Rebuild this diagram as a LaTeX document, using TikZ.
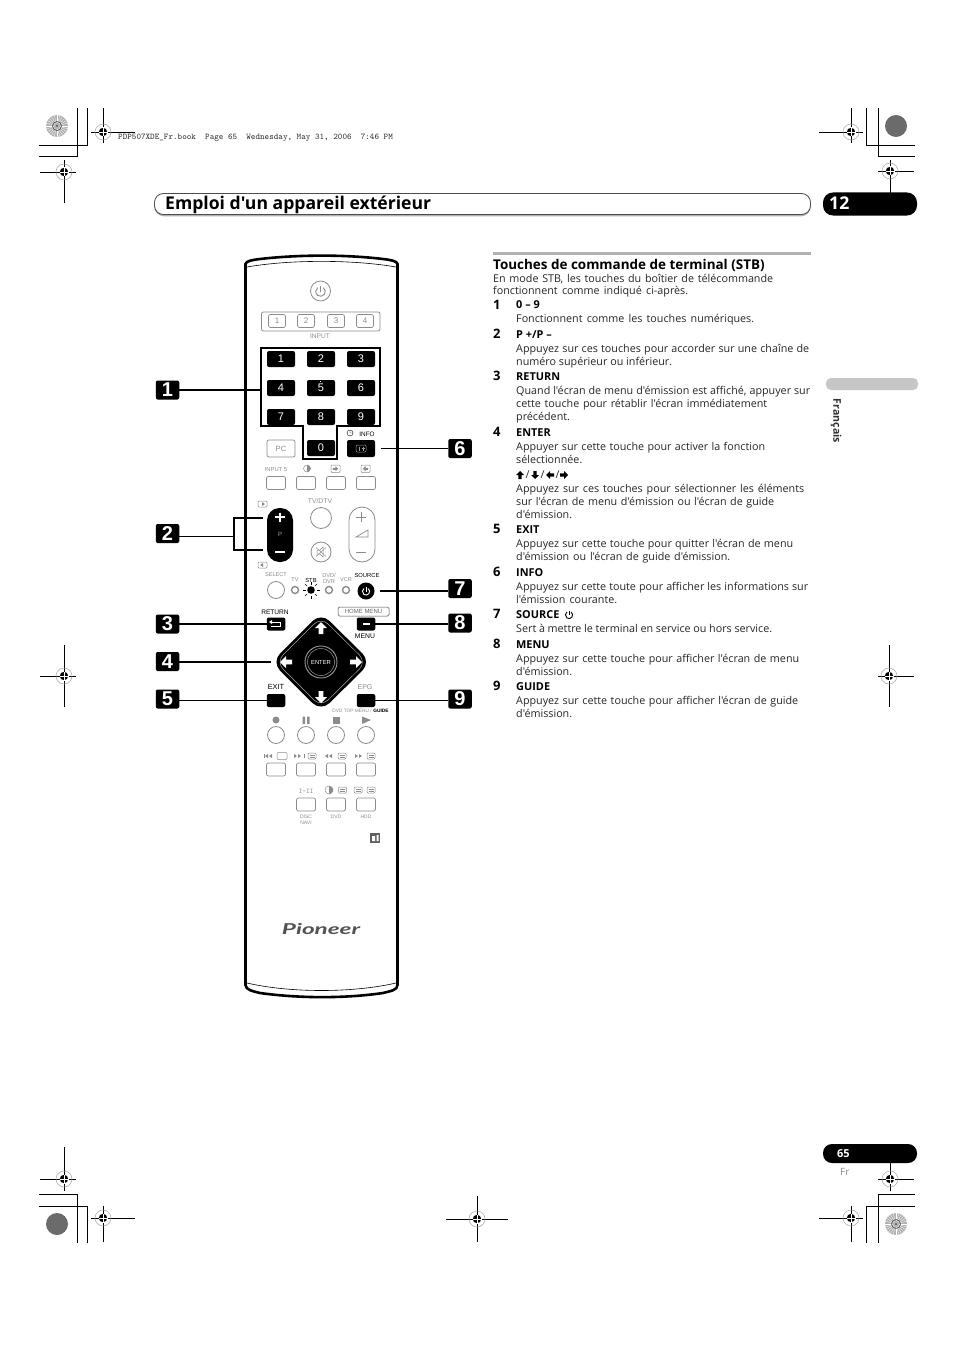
\documentclass[tikz,border=0pt]{standalone}
\usepackage{fontspec}
\newfontfamily\ofont{Open Sans}
\newfontfamily\logofont{Lato}
\newfontfamily\arialfont{Liberation Sans}
\setmonofont{Latin Modern Mono}
\definecolor{txt}{gray}{0.15}
\definecolor{lt}{gray}{0.55}
\tikzset{
  regline/.style={black,line width=0.9pt},
  cropline/.style={black,line width=0.9pt},
  leader/.style={black,line width=1.3pt},
  body/.style={anchor=base west,inner sep=0,text=txt,font=\ofont\fontsize{10.75}{12}\selectfont},
  subhead/.style={anchor=base west,inner sep=0,text=black,font=\ofont\fontsize{10.9}{12}\selectfont\bfseries},
  numlab/.style={anchor=base west,inner sep=0,text=black,font=\ofont\fontsize{13}{14}\selectfont\bfseries},
  callout/.style={fill=black,rounded corners=2pt,minimum width=23.5pt,minimum height=19pt,inner sep=0,text=white,font=\fontsize{20}{20}\arialfont\bfseries},
  numkey/.style={fill=black,rounded corners=2pt,minimum width=28pt,minimum height=16pt,inner sep=0,text=white,font=\fontsize{11}{11}\arialfont},
  graykey/.style={draw=lt,line width=0.7pt,fill=white,rounded corners=2pt,minimum width=19pt,minimum height=13pt,inner sep=0,text=lt,font=\fontsize{8}{8}\arialfont},
  blackkey/.style={fill=black,rounded corners=2pt,minimum width=18.5pt,minimum height=13pt,inner sep=0},
  grayround/.style={draw=lt,line width=0.8pt,fill=white,circle,inner sep=0},
  tiny/.style={inner sep=0,text=lt,font=\fontsize{5.6}{6}\arialfont},
  tinyb/.style={inner sep=0,text=black,font=\fontsize{5.8}{6}\arialfont},
  led/.style={circle,draw=lt,line width=1.4pt,fill=white,minimum size=7pt,inner sep=0},
  icn/.style={draw=lt,line width=0.5pt,rounded corners=1pt},
}
\newcommand{\regmark}[6]{%
  \draw[regline] (#3,#2) -- (#4,#2);
  \draw[regline] (#1,#5) -- (#1,#6);
  \draw[gray!70,line width=0.5pt] (#1,#2) circle (8);
  \fill[black] (#1,#2) circle (4.2);
  \draw[white,line width=0.6pt] (#1-4.5,#2) -- (#1+4.5,#2) (#1,#2-4.5) -- (#1,#2+4.5);
}
\newcommand{\dialdark}[2]{\fill[black!58] (#1,#2) circle (11);}
\newcommand{\dialrad}[2]{%
  \fill[gray!60] (#1,#2) circle (11);
  \foreach \a in {0,15,...,345}{\draw[white,line width=0.3pt] (#1,#2) ++(\a:3) -- ++(\a:8);}
  \draw[gray!70!black,line width=0.8pt] (#1,#2) circle (4.5);
  \fill[black!70] (#1,#2) circle (1);
}
\newcommand{\blockarrow}[5]{% x y rot size color
  \fill[#5,shift={(#1,#2)},rotate=#3] (0,-#4) -- (#4,0) -- (0.38*#4,0) -- (0.38*#4,#4) -- (-0.38*#4,#4) -- (-0.38*#4,0) -- (-#4,0) -- cycle;
}
\newcommand{\poweric}[4]{% x y r color
  \draw[#4,line width=0.9pt] (#1,#2) ++(-55:#3) arc (-55:235:#3);
  \draw[#4,line width=0.9pt] (#1,#2-#3-0.8) -- (#1,#2);
}
\newcommand{\bodyline}[4]{\node[body] (#1) at (516,#2) {\makebox[#3pt][s]{#4}};}
\newcommand{\bodyplain}[3]{\node[body] (#1) at (516,#2) {#3};}
\newcommand{\subline}[3]{\node[subhead] (#1) at (516,#2) {#3};}
\newcommand{\numline}[3]{\node[numlab] (#1) at (493,#2) {#3};}
\newcommand{\smallbox}[2]{\draw[icn,fill=white] (#1-4,#2-3) rectangle (#1+4,#2+3);\draw[lt,line width=0.4pt] (#1-2.5,#2-1) -- (#1+2.5,#2-1) (#1-2.5,#2+1) -- (#1+2.5,#2+1);}
\newcommand{\tri}[3]{\fill[lt] (#1,#2-2) -- (#1+#3,#2) -- (#1,#2+2) -- cycle;}
\newcommand{\halfdot}[3]{\draw[lt,line width=0.5pt] (#1,#2) circle (#3);\fill[lt] (#1,#2-#3) arc (-90:90:#3) -- cycle;}
\begin{document}
\begin{tikzpicture}[x=1pt,y=-1pt]
\useasboundingbox (0,0) rectangle (954,1351);
\fill[white] (0,0) rectangle (954,1351);

% --- printer's marks
\draw[cropline] (87,108) -- (87,145) -- (39,145);
\draw[cropline] (77,108) -- (77,156) -- (39,156);
\draw[cropline] (866,108) -- (866,145) -- (915,145);
\draw[cropline] (878,108) -- (878,156) -- (915,156);
\draw[cropline] (77,1243) -- (77,1194) -- (39,1194);
\draw[cropline] (87,1243) -- (87,1206) -- (39,1206);
\draw[cropline] (878,1243) -- (878,1194) -- (915,1194);
\draw[cropline] (866,1243) -- (866,1206) -- (915,1206);
\regmark{103}{132}{91}{135}{108}{143}
\regmark{64}{172}{40}{76}{160}{203}
\regmark{851}{132}{819}{863}{108}{143}
\regmark{890}{171}{878}{914}{160}{194}
\regmark{64}{1179}{40}{76}{1147}{1191}
\regmark{103}{1218}{91}{135}{1206}{1242}
\regmark{890}{1179}{878}{914}{1163}{1191}
\regmark{851}{1218}{819}{863}{1206}{1242}
\regmark{477}{1219}{446}{508}{1196}{1242}
\regmark{64}{676}{40}{76}{645}{707}
\regmark{889}{676}{878}{914}{645}{707}
\dialrad{57}{126}
\dialdark{896}{126}
\dialdark{57}{1224}
\dialrad{896}{1224}
\node[anchor=base west,inner sep=0,text=black!80,font=\fontsize{8.72}{9}\ttfamily] (jobline) at (118,140) {PDP507XDE\_Fr.book\ \ Page 65\ \ Wednesday, May 31, 2006\ \ 7:46 PM};

% --- header
\draw[gray!60,line width=1.6pt,rounded corners=9pt] (155,207) -- (155,215.5) -- (810,215.5) -- (810,207);
\draw[black!70,line width=0.8pt,rounded corners=9pt,fill=white] (154.5,193.5) rectangle (810.5,214.5);
\node[anchor=base west,inner sep=0,text=black,font=\ofont\fontsize{17.6}{18}\selectfont\bfseries] (title) at (165,209) {Emploi d'un appareil extérieur};
\fill[black,rounded corners=10pt] (823,192.5) rectangle (917,215.5);
\node[anchor=base west,inner sep=0,text=white,font=\ofont\fontsize{17.6}{18}\selectfont\bfseries] (chap) at (829,210) {12};
\fill[black,rounded corners=9pt] (823,1144) rectangle (917,1163);
\node[anchor=base west,inner sep=0,text=white,font=\ofont\fontsize{11}{12}\selectfont\bfseries] (pg) at (837,1157) {65};
\node[anchor=base west,inner sep=0,text=lt,font=\ofont\fontsize{10}{11}\selectfont] (fr) at (840,1175) {Fr};
\fill[gray!45,rounded corners=5pt] (826,378) rectangle (918,390);
\node[rotate=-90,inner sep=0,text=black!80,font=\ofont\fontsize{10.6}{11}\selectfont\bfseries] (lang) at (836,421) {Français};

% --- text column
\fill[gray!60] (493,251.5) rectangle (811,254.5);
\node[anchor=base west,inner sep=0,text=black,font=\ofont\fontsize{13.45}{14}\selectfont\bfseries] (head) at (493,269) {Touches de commande de terminal (STB)};
\node[body] (a1) at (493,282) {\makebox[280pt][s]{En mode STB, les touches du boîtier de télécommande}};
\node[body] (a2) at (493,294) {\makebox[195pt][s]{fonctionnent comme indiqué ci-après.}};
\numline{n1}{309}{1}\subline{s1}{308}{0 – 9}
\bodyline{b1}{322}{238}{Fonctionnent comme les touches numériques.}
\numline{n2}{338}{2}\subline{s2}{338}{P +/P –}
\bodyline{b2}{352}{293}{Appuyez sur ces touches pour accorder sur une chaîne de}
\bodyline{b3}{365}{156}{numéro supérieur ou inférieur.}
\numline{n3}{380}{3}\subline{s3}{380}{RETURN}
\bodyline{b4}{394}{294}{Quand l'écran de menu d'émission est affiché, appuyer sur}
\bodyline{b5}{407}{251}{cette touche pour rétablir l'écran immédiatement}
\bodyplain{b6}{420}{précédent.}
\numline{n4}{436}{4}\subline{s4}{436}{ENTER}
\bodyline{b7}{450}{249}{Appuyer sur cette touche pour activer la fonction}
\bodyplain{b8}{463}{sélectionnée.}
\blockarrow{520}{475}{0}{4}{black}
\node[body] (sl1) at (525.5,478) {/};
\blockarrow{535}{475}{180}{4}{black}
\node[body] (sl2) at (540.5,478) {/};
\blockarrow{550}{475}{90}{4}{black}
\node[body] (sl3) at (555.5,478) {/};
\blockarrow{564}{475}{-90}{4}{black}
\bodyline{b9}{492}{288}{Appuyez sur ces touches pour sélectionner les éléments}
\bodyline{b10}{505}{258}{sur l'écran de menu d'émission ou l'écran de guide}
\bodyplain{b11}{518}{d'émission.}
\numline{n5}{533}{5}\subline{s5}{533}{EXIT}
\bodyline{b12}{547}{277}{Appuyez sur cette touche pour quitter l'écran de menu}
\bodyline{b13}{560}{214}{d'émission ou l'écran de guide d'émission.}
\numline{n6}{576}{6}\subline{s6}{576}{INFO}
\bodyline{b14}{590}{292}{Appuyez sur cette toute pour afficher les informations sur}
\bodyline{b15}{603}{101}{l'émission courante.}
\numline{n7}{618}{7}\subline{s7}{618}{SOURCE}
\poweric{569}{615}{3.6}{black}
\bodyline{b16}{632}{256}{Sert à mettre le terminal en service ou hors service.}
\numline{n8}{648}{8}\subline{s8}{648}{MENU}
\bodyline{b17}{662}{283}{Appuyez sur cette touche pour afficher l'écran de menu}
\bodyplain{b18}{675}{d'émission.}
\numline{n9}{690}{9}\subline{s9}{690}{GUIDE}
\bodyline{b19}{704}{282}{Appuyez sur cette touche pour afficher l'écran de guide}
\bodyplain{b20}{717}{d'émission.}

% --- remote body
\draw[black,line width=2.6pt] (245.5,264) .. controls (246,261) and (252,260) .. (260,259) .. controls (300,254.5) and (345,254.5) .. (383,259) .. controls (391,260) and (397,261) .. (397.5,264) -- (397.5,985) .. controls (397.5,990) and (391,991) .. (383,993) .. controls (345,998.5) and (300,998.5) .. (260,993) .. controls (252,991) and (246,990) .. (245.5,985) -- cycle;
\draw[black,line width=0.6pt] (247,267) .. controls (290,259.5) and (353,259.5) .. (396,267);
\draw[black,line width=0.6pt] (247,983) .. controls (290,993) and (353,993) .. (396,983);

% power + input
\node[grayround,minimum size=20pt] (power) at (320.5,291) {};
\poweric{320.5}{291.5}{4.8}{lt}
\draw[draw=lt,line width=0.8pt,rounded corners=2pt] (261.5,312) rectangle (380,331);
\node[graykey,minimum width=17pt] (in1) at (277,321) {1};
\node[graykey,minimum width=17pt] (in2) at (306,321) {2};
\node[graykey,minimum width=17pt] (in3) at (336,321) {3};
\node[graykey,minimum width=17pt] (in4) at (365,321) {4};
\node[tiny,font=\fontsize{6.6}{7}\arialfont] (inputlab) at (320,336) {INPUT};

% number block
\draw[black,line width=1.4pt] (261,348) -- (380,348) -- (380,426) -- (337,426) -- (337,459) -- (303,459) -- (303,426) -- (261,426) -- cycle;
\coordinate (numleft) at (261,390);
\node[numkey] (k1) at (281,359) {1};
\node[numkey] (k2) at (321,359) {2};
\node[numkey] (k3) at (361,359) {3};
\node[numkey] (k4) at (281,388) {4};
\node[numkey] (k5) at (321,388) {5};
\node[numkey] (k6) at (361,388) {6};
\node[numkey] (k7) at (281,417) {7};
\node[numkey] (k8) at (321,417) {8};
\node[numkey] (k9) at (361,417) {9};
\node[numkey] (k0) at (321,448) {0};
\draw[white,line width=0.4pt] (320.5,380.5) -- (320.5,382);
\node[graykey,minimum width=28pt,minimum height=17pt,font=\fontsize{7.6}{8}\arialfont] (pc) at (281,448.5) {PC};
\node[blackkey,minimum width=28pt,minimum height=17pt] (info) at (361,448.5) {};
\draw[draw=gray!80,line width=0.5pt,rounded corners=1pt] (356,445) rectangle (366,452);
\draw[gray!80,line width=0.5pt] (359,446.5) -- (359,450.5) (363,446.5) -- (363,450.5) (361.5,448.5) -- (364.5,448.5);
\node[tinyb,font=\fontsize{6.4}{7}\arialfont] (infolab) at (367,434) {INFO};
\draw[black,line width=0.4pt] (350,433) circle (3) (350,433) -- (350,431) (350,433) -- (351.5,433);

% input 5 row
\node[tiny,font=\fontsize{5.8}{6}\arialfont] (in5lab) at (276,470) {INPUT 5};
\node[graykey] (r1a) at (276,483) {};
\node[graykey] (r1b) at (306,483) {};
\node[graykey] (r1c) at (336,483) {};
\node[graykey] (r1d) at (366,483) {};
\halfdot{307}{468.5}{3.5}
\draw[icn] (331,465) rectangle (340,472.5);
\blockarrow{335.5}{468.8}{-90}{2.6}{lt}
\draw[icn] (361,465) rectangle (370,472.5);
\blockarrow{365.5}{468.8}{90}{2.6}{lt}

% P rocker, TV/DTV, mute, volume
\node[tiny,font=\fontsize{6.8}{7}\arialfont] (tvdtv) at (320,501) {TV/DTV};
\fill[black,rounded corners=12.5pt] (267,508) rectangle (293,562);
\node[inner sep=0,text=gray!70,font=\fontsize{6}{6}\arialfont] (plab) at (280,534) {P};
\draw[white,line width=1.1pt] (275,517) -- (285,517) (280,512.5) -- (280,521.5);
\draw[white,line width=1.1pt] (275,552) -- (285,552);
\coordinate (pplus) at (263,518);
\coordinate (pminus) at (263,550);
\draw[icn] (258,501) rectangle (267,507);
\tri{262}{504}{3}
\draw[icn] (258,562) rectangle (267,568);
\tri{263}{565}{-3}
\node[grayround,minimum size=21pt] (tvbtn) at (321,518) {};
\node[grayround,minimum size=20pt] (mute) at (321,552) {};
\draw[lt,line width=0.5pt] (317,550) -- (320,550) -- (323,547) -- (323,557) -- (320,554) -- (317,554) -- cycle;
\draw[lt,line width=0.5pt] (316,547.5) -- (326,556.5) (326,547.5) -- (316,556.5);
\draw[draw=lt,line width=0.8pt,rounded corners=13pt,fill=white] (349,507) rectangle (375,562);
\draw[lt,line width=0.7pt] (356,517) -- (366,517) (361,512) -- (361,522);
\draw[lt,line width=0.7pt] (356,552) -- (366,552);
\draw[lt,line width=0.7pt] (356,537) -- (368,537) -- (368,530) -- cycle;

% select row
\node[tiny] (sellab) at (276,575) {SELECT};
\node[grayround,minimum size=17pt] (select) at (276,590) {};
\node[tiny] (tvlab) at (295,580) {TV};
\node[led] (ledtv) at (295,590) {};
\node[tinyb] (stblab) at (311,580) {STB};
\fill[black] (311,590) circle (3.8);
\foreach \a in {0,45,...,315}{\draw[black,line width=0.5pt] (311,590) ++(\a:5.5) -- ++(\a:3);}
\node[tiny] (dvdlab) at (329,575.5) {DVD/};
\node[tiny] (dvrlab) at (329,581.5) {DVR};
\node[led] (leddvd) at (329,590) {};
\node[tiny] (vcrlab) at (346,580) {VCR};
\node[led] (ledvcr) at (346,590) {};
\node[tinyb] (srclab) at (367,575) {SOURCE};
\node[circle,fill=black,minimum size=17pt,inner sep=0] (source) at (366,591) {};
\poweric{366}{591.5}{3.6}{white}

% nav cluster
\node[tinyb,font=\fontsize{6.6}{7}\arialfont] (retlab) at (275,612.5) {RETURN};
\node[blackkey] (return) at (276,624) {};
\draw[white,line width=0.8pt] (271,622) -- (280,622) -- (280,626.5) -- (271,626.5);
\fill[white] (269,622) -- (272,620) -- (272,624) -- cycle;
\draw[draw=black!70,line width=0.5pt,rounded corners=1.5pt] (338,607) rectangle (389,616);
\node[tiny,text=black!60,font=\fontsize{6}{6}\arialfont] (homelab) at (363.5,611.5) {HOME MENU};
\node[blackkey] (menu) at (366,624) {};
\fill[white] (362.5,623) rectangle (369.5,625);
\node[tinyb,font=\fontsize{6.8}{7}\arialfont] (menulab) at (365,636) {MENU};
\node[tinyb,font=\fontsize{7.4}{8}\arialfont] (exitlab) at (276,687) {EXIT};
\node[blackkey] (exit) at (276,700.5) {};
\node[tiny,font=\fontsize{7}{8}\arialfont] (epglab) at (365,687) {EPG};
\node[blackkey] (guide) at (366,700.5) {};
\node[tiny,font=\fontsize{4.8}{5}\arialfont] (dvdtop) at (352,710.5) {DVD TOP MENU /};
\node[tinyb,font=\fontsize{4.8}{5}\arialfont\bfseries] (guidelab) at (381,710.5) {GUIDE};
\fill[black,rounded corners=12pt] (321,612.5) -- (371,662) -- (321,711.5) -- (271.5,662) -- cycle;
\draw[gray!70,line width=0.5pt,rounded corners=10pt] (321,617) -- (366.5,662) -- (321,707) -- (276,662) -- cycle;
\coordinate (dpadleft) at (271,662);
\blockarrow{321}{628}{0}{6}{white}
\blockarrow{321}{697}{180}{6}{white}
\blockarrow{286}{662}{90}{6}{white}
\blockarrow{356}{662}{-90}{6}{white}
\node[circle,fill=black,draw=gray!80,line width=0.9pt,minimum size=32pt,inner sep=0,text=white,font=\fontsize{5.8}{6}\arialfont] (enter) at (321,662) {ENTER};
\draw[gray!80,line width=0.5pt] (321,662) circle (13.5);

% transport rows
\fill[lt] (276,720) circle (3.5);
\fill[lt] (302.5,716.5) rectangle (305,724) (307,716.5) rectangle (309.5,724);
\fill[lt] (332.5,716.5) rectangle (340,724);
\fill[lt] (362,716.5) -- (371,720) -- (362,724) -- cycle;
\node[grayround,minimum size=17pt] (rec) at (276,735) {};
\node[grayround,minimum size=17pt] (pause) at (306,735) {};
\node[grayround,minimum size=17pt] (stop) at (336,735) {};
\node[grayround,minimum size=17pt] (play) at (366,735) {};
\draw[lt,line width=0.7pt] (264.5,754) -- (264.5,758);
\tri{268}{756}{-3}\tri{272}{756}{-3}
\draw[icn] (277,752.5) rectangle (287,759.5);
\tri{294}{756}{3}\tri{298}{756}{3}
\draw[lt,line width=0.7pt] (304.5,754) -- (304.5,758);
\smallbox{312}{756}
\tri{328}{756}{-3}\tri{332}{756}{-3}
\smallbox{342}{756}
\tri{355}{756}{3}\tri{359}{756}{3}
\smallbox{371}{756}
\node[graykey] (t1) at (276,769.5) {};
\node[graykey] (t2) at (306,769.5) {};
\node[graykey] (t3) at (336,769.5) {};
\node[graykey] (t4) at (366,769.5) {};
\node[inner sep=0,text=lt,font=\fontsize{7}{7}\ttfamily\bfseries] (i2lab) at (306,791) {I-II};
\halfdot{329}{790}{4}
\smallbox{342.5}{790}
\smallbox{358}{790}
\smallbox{371}{790}
\node[graykey] (d1) at (306,804.5) {};
\node[graykey] (d2) at (336,804.5) {};
\node[graykey] (d3) at (366,804.5) {};
\node[tiny,font=\fontsize{5}{5}\arialfont] (disclab) at (306,816.5) {DISC};
\node[tiny,font=\fontsize{5}{5}\arialfont] (navilab) at (306,822.5) {NAVI};
\node[tiny,font=\fontsize{5}{5}\arialfont] (dvdl) at (336,816.5) {DVD};
\node[tiny,font=\fontsize{5}{5}\arialfont] (hddl) at (366,816.5) {HDD};
\fill[gray!75!black] (370,833) rectangle (380,843);
\fill[white] (372,836) rectangle (375,841) (376.5,835) rectangle (378.5,841);
\node[inner sep=0,text=gray!65!black,font=\fontsize{15}{15}\logofont\bfseries\itshape] (logo) at (321,929) {\scalebox{1.62}[1]{Pioneer}};

% --- callouts and leaders
\node[callout] (c1) at (167.5,390) {1};
\node[callout] (c2) at (167.5,533.5) {2};
\node[callout] (c3) at (167.5,624) {3};
\node[callout] (c4) at (167.5,661.5) {4};
\node[callout] (c5) at (167.5,699) {5};
\node[callout] (c6) at (460,448.5) {6};
\node[callout] (c7) at (460,588.5) {7};
\node[callout] (c8) at (460,623) {8};
\node[callout] (c9) at (460,699) {9};
\coordinate (bracket) at (234,536.5);
\draw[leader] (c1.east) -- (numleft);
\draw[leader] (c2.east |- bracket) -- (bracket);
\draw[leader] (pplus) -| (bracket) |- (pminus);
\draw[leader] (c3.east) -- (return.west);
\draw[leader] (c4.east |- dpadleft) -- (dpadleft);
\draw[leader] (c5.east |- exit) -- (exit.west);
\draw[leader] (c6.west) -- ([xshift=6pt]info.east);
\draw[leader] (c7.west |- source) -- ([xshift=5pt]source.east);
\draw[leader] (c8.west |- menu) -- (menu.east);
\draw[leader] (c9.west |- guide) -- (guide.east);
\end{tikzpicture}
\end{document}
